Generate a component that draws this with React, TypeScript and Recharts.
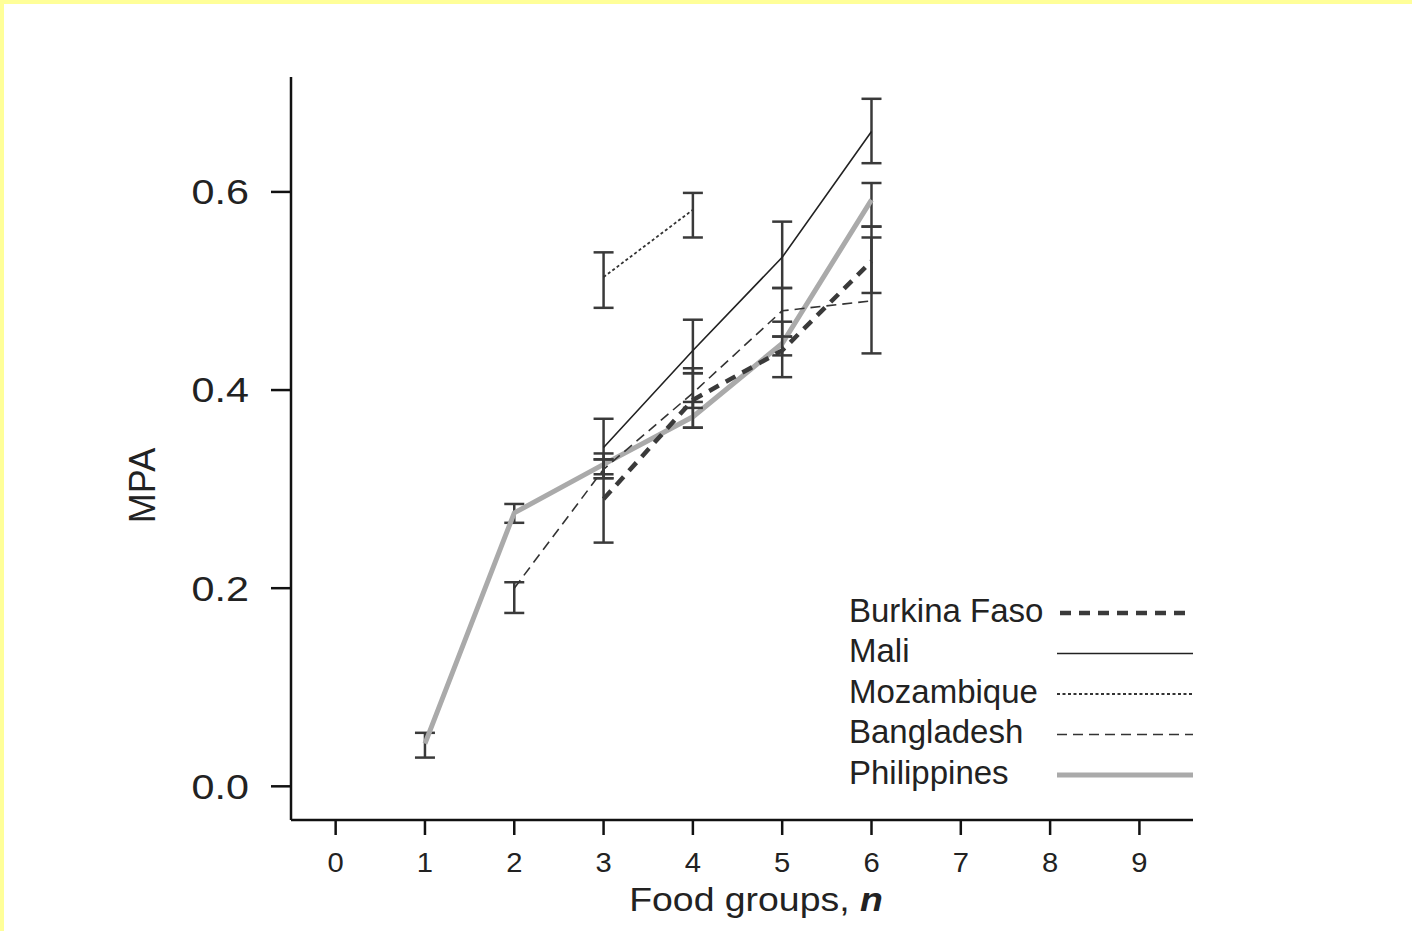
import { ErrorBar, Legend, Line, LineChart, XAxis, YAxis } from "recharts";

const FONT = "'Liberation Sans', Arial, Helvetica, sans-serif";

// food groups eaten (x) and axis ticks
const foodGroups = [1, 2, 3, 4, 5, 6];
const xTicks = [0, 1, 2, 3, 4, 5, 6, 7, 8, 9];
const yTicks = [0, 0.2, 0.4, 0.6];

// MPA means and error bar bounds per country
const burkinaFaso = [null, null, 0.29, 0.39, 0.44, 0.53];
const burkinaFasoLow = [null, null, 0.246, 0.362, 0.413, 0.498];
const burkinaFasoHigh = [null, null, 0.33, 0.417, 0.469, 0.554];

const mali = [null, null, 0.342, 0.44, 0.534, 0.661];
const maliLow = [null, null, 0.311, 0.417, 0.503, 0.629];
const maliHigh = [null, null, 0.371, 0.471, 0.57, 0.694];

const mozambique = [null, null, 0.514, 0.582, null, null];
const mozambiqueLow = [null, null, 0.483, 0.554, null, null];
const mozambiqueHigh = [null, null, 0.539, 0.599, null, null];

const bangladesh = [null, 0.2, 0.32, 0.397, 0.48, 0.49];
const bangladeshLow = [null, 0.175, 0.311, 0.382, 0.454, 0.437];
const bangladeshHigh = [null, 0.206, 0.33, 0.422, 0.503, 0.565];

const philippines = [0.043, 0.276, 0.325, 0.373, 0.447, 0.592];
const philippinesLow = [0.029, 0.266, 0.315, 0.362, 0.435, 0.565];
const philippinesHigh = [0.054, 0.285, 0.336, 0.388, 0.454, 0.609];

type Val = number | null;

interface Series {
  key: string;
  name: string;
  values: Val[];
  low: Val[];
  high: Val[];
  stroke: string;
  width: number;
  dash?: string;
}

const SERIES: Series[] = [
  { key: "bf", name: "Burkina Faso", values: burkinaFaso, low: burkinaFasoLow, high: burkinaFasoHigh, stroke: "#3a3a3a", width: 4.5, dash: "11 8" },
  { key: "ml", name: "Mali", values: mali, low: maliLow, high: maliHigh, stroke: "#222", width: 1.6 },
  { key: "mz", name: "Mozambique", values: mozambique, low: mozambiqueLow, high: mozambiqueHigh, stroke: "#333", width: 1.8, dash: "3 2.5" },
  { key: "bd", name: "Bangladesh", values: bangladesh, low: bangladeshLow, high: bangladeshHigh, stroke: "#333", width: 1.6, dash: "10 6" },
  { key: "ph", name: "Philippines", values: philippines, low: philippinesLow, high: philippinesHigh, stroke: "#aaaaaa", width: 5 },
];

const data = foodGroups.map((n, i) => {
  const row: Record<string, number | number[] | null> = { n };
  SERIES.forEach((s) => {
    const v = s.values[i];
    const lo = s.low[i];
    const hi = s.high[i];
    row[s.key] = v;
    row[s.key + "Err"] = v == null || lo == null || hi == null ? null : [v - lo, hi - v];
  });
  return row;
});

// the source figure is slightly stretched horizontally
const XTick = (props: any) => {
  const { x, y, payload } = props;
  return (
    <text
      x={x}
      y={y}
      dy={20}
      textAnchor="middle"
      fontSize={27}
      fill="#222"
      fontFamily={FONT}
      transform={`translate(${x} 0) scale(1.08 1) translate(${-x} 0)`}
    >
      {payload.value}
    </text>
  );
};

const YTick = (props: any) => {
  const { x, y, payload } = props;
  return (
    <text
      x={x}
      y={y}
      textAnchor="end"
      dominantBaseline="central"
      fontSize={35}
      fill="#222"
      fontFamily={FONT}
      transform={`translate(${x} 0) scale(1.18 1) translate(${-x} 0)`}
    >
      {Number(payload.value).toFixed(1)}
    </text>
  );
};

function LegendBox() {
  return (
    <svg width={360} height={210} style={{ display: "block", overflow: "visible" }}>
      {SERIES.map((s, i) => {
        const cy = 20 + i * 40.5;
        return (
          <g key={s.key}>
            <text x={4} y={cy} dominantBaseline="central" fontSize={33} fill="#222" fontFamily={FONT}>
              {s.name}
            </text>
            <line
              x1={i === 0 ? 215 : 212}
              x2={i === 0 ? 345 : 348}
              y1={cy + 3}
              y2={cy + 3}
              stroke={s.stroke}
              strokeWidth={s.width}
              strokeDasharray={s.dash}
            />
          </g>
        );
      })}
    </svg>
  );
}

const XTitle = (props: any) => {
  const vb = props.viewBox;
  const cx = vb.x + vb.width / 2 + 14;
  return (
    <text
      x={cx}
      y={vb.y + 91}
      textAnchor="middle"
      fontSize={34}
      fill="#222"
      fontFamily={FONT}
      transform={`translate(${cx} 0) scale(1.1 1) translate(${-cx} 0)`}
    >
      Food groups, <tspan fontStyle="italic" fontWeight="bold">n</tspan>
    </text>
  );
};

const YTitle = (props: any) => {
  const vb = props.viewBox;
  const cx = 142;
  const cy = vb.y + vb.height / 2 + 37;
  return (
    <text
      x={cx}
      y={cy}
      transform={`rotate(-90, ${cx}, ${cy})`}
      textAnchor="middle"
      dominantBaseline="central"
      fontSize={36}
      fill="#222"
      fontFamily={FONT}
    >
      MPA
    </text>
  );
};

export default function App() {
  const drawOrder = [...SERIES].reverse();
  return (
    <div
      style={{
        position: "fixed",
        left: 0,
        top: 0,
        width: 1412,
        height: 931,
        background: "#fff",
        fontFamily: FONT,
      }}
    >
      <LineChart width={1412} height={931} data={data} margin={{ top: 77, right: 219, bottom: 0, left: 0 }}>
        <XAxis
          dataKey="n"
          type="number"
          domain={[-0.5, 9.6]}
          ticks={xTicks}
          interval={0}
          height={111}
          stroke="#111"
          strokeWidth={2.5}
          tickSize={15}
          tickMargin={17}
          tick={XTick}
          tickLine={{ stroke: "#111", strokeWidth: 2.5 }}
          label={XTitle}
        />
        <YAxis
          type="number"
          domain={[-0.034, 0.716]}
          ticks={yTicks}
          width={291}
          stroke="#111"
          strokeWidth={2.5}
          tickSize={20}
          tickMargin={22}
          tick={YTick}
          tickLine={{ stroke: "#111", strokeWidth: 2.5 }}
          label={YTitle}
        />
        {drawOrder.map((s) => (
          <Line
            key={s.key}
            dataKey={s.key}
            name={s.name}
            type="linear"
            stroke={s.stroke}
            strokeWidth={s.width}
            strokeDasharray={s.dash}
            dot={false}
            activeDot={false}
            isAnimationActive={false}
          >
            <ErrorBar dataKey={s.key + "Err"} direction="y" width={10} stroke="#3a3a3a" strokeWidth={2.5} isAnimationActive={false} />
          </Line>
        ))}
        <Legend
          layout="vertical"
          align="center"
          verticalAlign="middle"
          content={() => <LegendBox />}
          wrapperStyle={{ left: 845, top: 590, width: 360, height: 210 }}
        />
      </LineChart>
      <div style={{ position: "absolute", zIndex: 5, left: 0, top: 0, width: 1412, height: 4, background: "#ffff99" }} />
      <div style={{ position: "absolute", zIndex: 5, left: 0, top: 0, width: 4, height: 931, background: "#ffff99" }} />
    </div>
  );
}
